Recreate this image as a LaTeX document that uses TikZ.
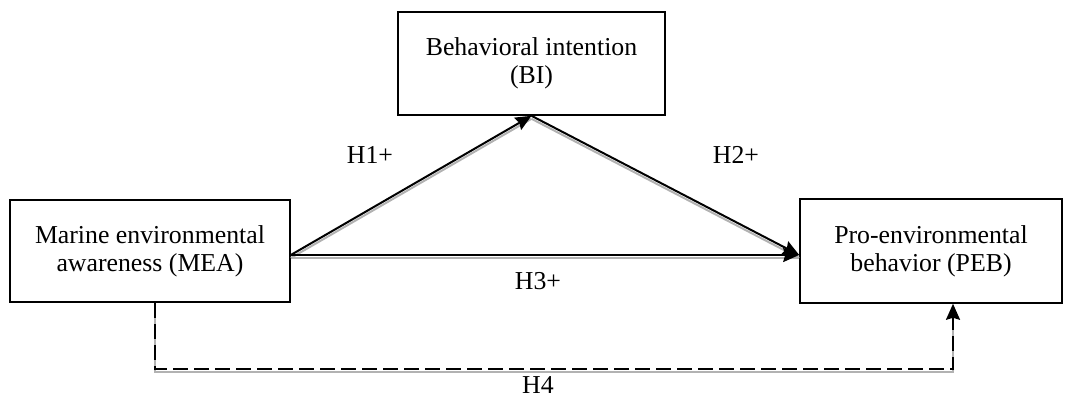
\documentclass[tikz,border=0pt]{standalone}
\usepackage{fontspec}
\setmainfont{Liberation Serif}
\usetikzlibrary{arrows.meta}

\begin{document}
\begin{tikzpicture}[
                > = {Stealth[length=8pt,width=7pt,inset=1pt]}, % arrow head style
                line width = 1pt, % line style
                font = \fontsize{12.9}{14}\selectfont
            ]

            \tikzstyle{box}=[
            draw = black,
            line width = 0.8pt,
            rectangle,
            align = center,
            inner sep = 2pt
            ]
            \tikzstyle{link}=[
            ->,
            preaction = {draw = black!30, -, transform canvas = {yshift = -1.5pt}}
            ]
            \tikzstyle{hyp}=[inner sep = 1pt]

            \useasboundingbox (0,0) rectangle (535pt,199.5pt);

            \node[box, minimum width = 133.5pt, minimum height = 51.5pt] (bi) at (265.75pt,167.75pt) {Behavioral intention\\(BI)};
            \node[box, minimum width = 140pt, minimum height = 51pt] (mea) at (75pt,74pt) {Marine environmental\\awareness (MEA)};
            \node[box, minimum width = 131pt, minimum height = 52pt] (peb) at (465.5pt,74pt) {Pro-environmental\\behavior (PEB)};

            \coordinate (from) at ([yshift=-2pt]mea.east);
            \coordinate (to) at ([yshift=-2pt]peb.west);

            \draw[link] (from) -- (bi.south);
            \draw[link] (bi.south) -- (to);
            \draw[link] (from) -- (to);
            \draw[link, dash pattern = on 7.5pt off 3pt] ([xshift=2.5pt]mea.south) -- ++(0,-33pt) -| ([xshift=11pt]peb.south);

            \node[hyp] (h1) at (185pt,122pt) {H1+};
            \node[hyp] (h2) at (368pt,122pt) {H2+};
            \node[hyp] (h3) at (269pt,59pt) {H3+};
            \node[hyp] (h4) at (269pt,7pt) {H4};
        \end{tikzpicture}
\end{document}
